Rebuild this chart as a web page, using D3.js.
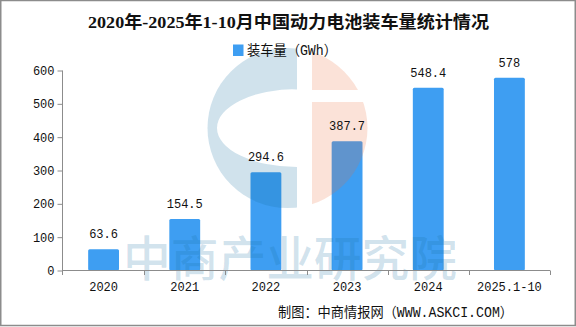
<!DOCTYPE html>
<html>
<head>
<meta charset="utf-8">
<script src="https://cdn.jsdelivr.net/npm/d3@7/dist/d3.min.js"></script>
<style>
  html, body { margin: 0; padding: 0; background: #fff; }
  svg { display: block; }
</style>
</head>
<body>
<svg id="chart" width="576" height="327"></svg>
<script>
// ---- data ----
const categories = ["2020", "2021", "2022", "2023", "2024", "2025.1-10"];
const values = [63.6, 154.5, 294.6, 387.7, 548.4, 578];
const yTicks = [0, 100, 200, 300, 400, 500, 600];
const titleText = "2020年-2025年1-10月中国动力电池装车量统计情况";
const legendText = "装车量（GWh）";
const sourceText = "制图：中商情报网（WWW.ASKCI.COM）";
const watermarkText = "中商产业研究院";

(function () {
// ---- layout ----
const svg = d3.select("#chart");
const W = 576, H = 327;
const plotL = 63, plotR = 550, plotT = 70.5, plotB = 270.5;
const barColor = "#3e9ef2";
const axisColor = "#8c8c8c";
const monoFont = "'Liberation Mono', 'DejaVu Sans Mono', monospace";
const cjkFont = "'Liberation Mono', 'Noto Sans CJK SC', sans-serif";

svg.append("rect").attr("x", 0).attr("y", 0).attr("width", W).attr("height", H).attr("fill", "#fff");

const x = d3.scaleBand().domain(categories).range([plotL, plotR]).padding(0);
const y = d3.scaleLinear().domain([0, 600]).range([plotB, plotT]);
const barW = x.bandwidth() * 0.38;

// title
svg.append("text")
  .attr("x", 288.5).attr("y", 28)
  .attr("text-anchor", "middle")
  .attr("font-family", "'Liberation Serif', 'Noto Sans CJK SC', serif")
  .attr("font-weight", "bold")
  .attr("font-size", 17)
  .attr("textLength", 401).attr("lengthAdjust", "spacingAndGlyphs")
  .attr("fill", "#111")
  .text(titleText);

// bars
svg.append("g").selectAll("rect").data(values).join("rect")
  .attr("x", (d, i) => x(categories[i]) + (x.bandwidth() - barW) / 2)
  .attr("y", d => y(d))
  .attr("width", barW)
  .attr("height", d => y(0) - y(d))
  .attr("rx", 1.5)
  .attr("fill", barColor);

// watermark logo (drawn over bars, translucent)
const defs = svg.append("defs");
const cx = 287.5, cy = 128, r = 80;
defs.append("clipPath").attr("id", "logoClip")
  .append("circle").attr("cx", cx).attr("cy", cy).attr("r", r);
const wm = svg.append("g").attr("clip-path", "url(#logoClip)");
wm.append("path")
  .attr("d", `M${cx - r - 2},${cy - r - 2} H297 V${cy + r + 2} H${cx - r - 2} Z M297,89 A80,39 0 0,0 297,167 Z`)
  .attr("fill-rule", "evenodd")
  .attr("fill", "rgb(20,110,160)").attr("fill-opacity", 0.2);
wm.append("path")
  .attr("d", `M312,${cy - r - 2} H${cx + r + 2} V90 H312 Z M312,102 H${cx + r + 2} V${cy + r + 2} H312 Z`)
  .attr("fill", "rgb(235,110,60)").attr("fill-opacity", 0.2);

// watermark text
svg.append("text")
  .attr("x", 290).attr("y", 276)
  .attr("text-anchor", "middle")
  .attr("font-family", "'Noto Sans CJK SC', sans-serif")
  .attr("font-weight", 500)
  .attr("font-size", 48)
  .attr("textLength", 334).attr("lengthAdjust", "spacingAndGlyphs")
  .attr("fill", "rgb(20,110,160)").attr("fill-opacity", 0.2)
  .text(watermarkText);

// legend
svg.append("rect").attr("x", 233).attr("y", 44.5).attr("width", 10.5).attr("height", 11.5).attr("fill", barColor);
svg.append("text")
  .attr("x", 247).attr("y", 55)
  .attr("font-family", cjkFont)
  .attr("font-size", 14)
  .attr("textLength", 90).attr("lengthAdjust", "spacingAndGlyphs")
  .attr("fill", "#111")
  .text(legendText);

// y axis
const yAxis = d3.axisLeft(y).tickValues(yTicks).tickSize(5).tickPadding(3).tickSizeOuter(0);
const gy = svg.append("g").attr("transform", `translate(${plotL - 0.5},0)`).call(yAxis);
gy.select(".domain").remove();
gy.selectAll(".tick line").attr("stroke", axisColor);
gy.selectAll(".tick text")
  .attr("font-family", monoFont).attr("font-size", 12).attr("fill", "#111");
svg.append("line").attr("x1", plotL - 0.5).attr("x2", plotL - 0.5).attr("y1", plotT).attr("y2", 275).attr("stroke", axisColor);

// x axis
const xAxis = d3.axisBottom(x).tickSize(0).tickPadding(12);
const gx = svg.append("g").attr("transform", `translate(0,${plotB})`).call(xAxis);
gx.select(".domain").remove();
gx.selectAll(".tick text")
  .attr("font-family", monoFont).attr("font-size", 12).attr("fill", "#111");
svg.append("line").attr("x1", plotL - 0.5).attr("x2", plotR).attr("y1", plotB).attr("y2", plotB).attr("stroke", axisColor);
const bounds = categories.map(c => x(c)).concat([plotR]).slice(1);
svg.append("g").selectAll("line").data(bounds).join("line")
  .attr("x1", d => Math.round(d) + 0.5).attr("x2", d => Math.round(d) + 0.5)
  .attr("y1", plotB).attr("y2", 275)
  .attr("stroke", axisColor);

// value labels
svg.append("g").selectAll("text").data(values).join("text")
  .attr("x", (d, i) => x(categories[i]) + x.bandwidth() / 2)
  .attr("y", d => y(d) - 11)
  .attr("text-anchor", "middle")
  .attr("font-family", monoFont).attr("font-size", 12).attr("fill", "#111")
  .text(d => String(d));

// source
svg.append("text")
  .attr("x", 513).attr("y", 317)
  .attr("text-anchor", "end")
  .attr("font-family", cjkFont)
  .attr("font-size", 14)
  .attr("textLength", 235).attr("lengthAdjust", "spacingAndGlyphs")
  .attr("fill", "#111")
  .text(sourceText);

// border
svg.append("rect").attr("x", 0.75).attr("y", 0.5).attr("width", 574.5).attr("height", 325)
  .attr("fill", "none").attr("stroke", axisColor).attr("stroke-width", 1.5);
})();
</script>
</body>
</html>
